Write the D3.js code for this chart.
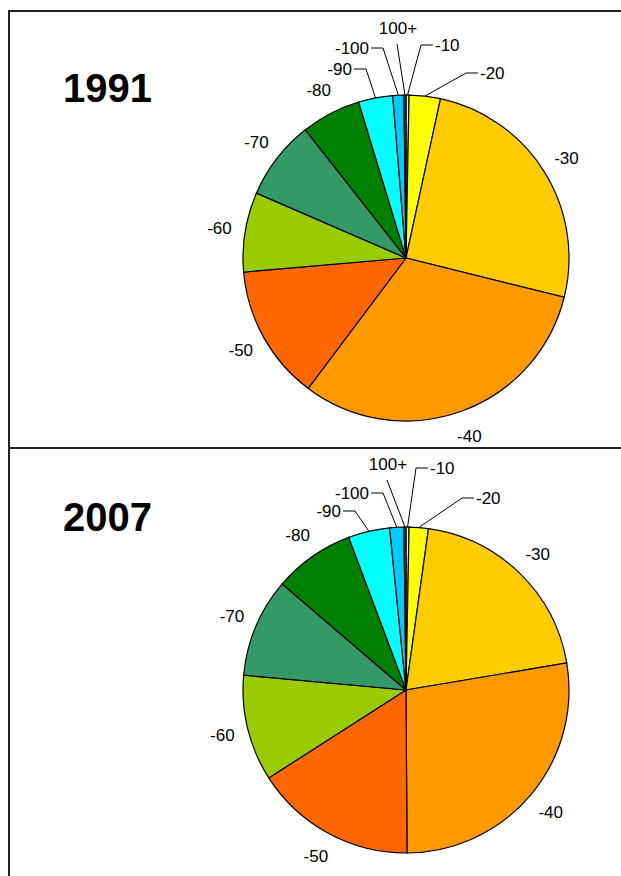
<!DOCTYPE html>
<html>
<head>
<meta charset="utf-8">
<script src="https://cdn.jsdelivr.net/npm/d3@7"></script>
<style>
  body { margin: 0; background: #fff; }
  svg { display: block; font-family: "Liberation Sans", Arial, sans-serif; }
</style>
</head>
<body>
<div id="chart-data"></div>
<script>
const categories = ["-10", "-20", "-30", "-40", "-50", "-60", "-70", "-80", "-90", "-100", "100+"];
const values1991 = [0.3, 3.1, 25.5, 31.4, 13.4, 7.9, 7.9, 5.9, 3.4, 1.1, 0.2];
const values2007 = [0.3, 1.9, 20.1, 27.5, 16.0, 10.5, 9.8, 8.0, 4.1, 1.4, 0.2];
const years = ["1991", "2007"];
const colors = ["#ffff99", "#ffff00", "#ffcc00", "#ff9900", "#ff6600", "#99cc00",
  "#339966", "#008000", "#00ffff", "#00ccff", "#3366ff"];

// elbow of leader lines for the thin slices, relative to pie centre
const leaders = {
  "1991": {
    "-90": { ex: -40, ey: -189, side: "left" },
    "-100": { ex: -23, ey: -210, side: "left" },
    "100+": { ex: -9, ey: -214, side: "top" },
    "-10": { ex: 15, ey: -213, side: "right" },
    "-20": { ex: 60, ey: -185, side: "right" }
  },
  "2007": {
    "-90": { ex: -51, ey: -179, side: "left" },
    "-100": { ex: -23, ey: -197, side: "left" },
    "100+": { ex: -19, ey: -210, side: "top" },
    "-10": { ex: 10, ey: -222, side: "right" },
    "-20": { ex: 56, ey: -192, side: "right" }
  }
};

const drawPie = (svg, year, values, cx, cy, titleY) => {
  const r = 163;
  const c = d3.scaleOrdinal().domain(categories).range(colors);
  const pie = d3.pie().sort(null).value(d => d.value);
  const arc = d3.arc().innerRadius(0).outerRadius(r);
  const data = pie(categories.map((k, i) => ({ name: k, value: values[i] })));

  svg.append("text")
    .attr("x", 63)
    .attr("y", titleY)
    .attr("font-size", 40)
    .attr("font-weight", "bold")
    .text(year);

  const g = svg.append("g").attr("transform", `translate(${cx},${cy})`);

  g.selectAll("path")
    .data(data)
    .enter()
    .append("path")
    .attr("d", arc)
    .attr("fill", d => c(d.data.name))
    .attr("stroke", "#000")
    .attr("stroke-width", 1.2);

  const lead = leaders[year];
  const labelR = r + 26;
  data.forEach(d => {
    const a = (d.startAngle + d.endAngle) / 2;
    const l = lead[d.data.name];
    if (!l) {
      g.append("text")
        .attr("x", labelR * Math.sin(a))
        .attr("y", -labelR * Math.cos(a))
        .attr("dy", "0.35em")
        .attr("text-anchor", "middle")
        .attr("font-size", 17)
        .text(d.data.name);
      return;
    }
    const px = r * Math.sin(a), py = -r * Math.cos(a);
    let pts, tx, ty, anchor;
    if (l.side === "top") {
      pts = [[px, py], [l.ex, l.ey]];
      tx = l.ex + 1; ty = l.ey - 10; anchor = "middle";
    } else {
      const dir = l.side === "left" ? -1 : 1;
      pts = [[px, py], [l.ex, l.ey], [l.ex + dir * 12, l.ey]];
      tx = l.ex + dir * 14; ty = l.ey + 6; anchor = dir < 0 ? "end" : "start";
    }
    g.append("path")
      .attr("d", d3.line()(pts))
      .attr("fill", "none")
      .attr("stroke", "#000")
      .attr("stroke-width", 1);
    g.append("text")
      .attr("x", tx)
      .attr("y", ty)
      .attr("text-anchor", anchor)
      .attr("font-size", 17)
      .text(d.data.name);
  });
};

const main = () => {
  const svg = d3.select("#chart-data")
    .append("svg")
    .attr("width", 621)
    .attr("height", 876);

  // frame lines
  svg.append("path")
    .attr("d", "M9,876V11H621M9,448H621")
    .attr("fill", "none")
    .attr("stroke", "#222")
    .attr("stroke-width", 2);

  drawPie(svg, years[0], values1991, 406, 258, 102);
  drawPie(svg, years[1], values2007, 406, 690, 531);
};
window.onload = main;
</script>
</body>
</html>
